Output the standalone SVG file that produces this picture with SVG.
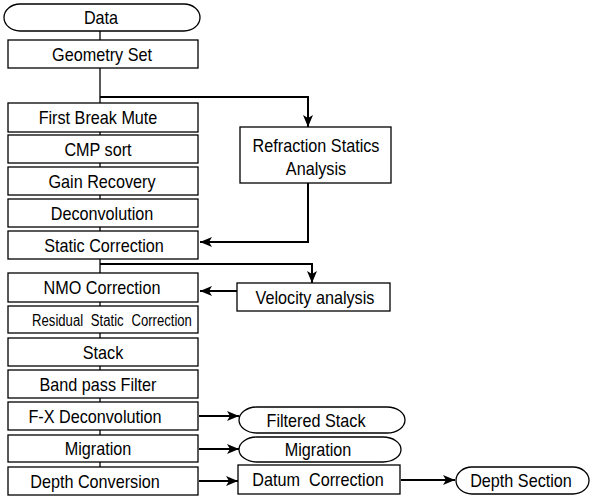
<svg xmlns="http://www.w3.org/2000/svg" width="592" height="499" viewBox="0 0 592 499">
<style>
.b{fill:#fff;stroke:#000;stroke-width:1.3}
.t{font-family:"Liberation Sans",Arial,sans-serif;font-size:18px;fill:#000;text-anchor:middle}
.c{fill:none;stroke:#000;stroke-width:2}
.s{fill:none;stroke:#000;stroke-width:1.3}
</style>
<defs>
<marker id="a" viewBox="0 0 12 10" refX="12" refY="5" markerWidth="12" markerHeight="10" markerUnits="userSpaceOnUse" orient="auto">
<path d="M0,0 L12,5 L0,10 L3,5 Z" fill="#000"/>
</marker>
</defs>
<g id="connectors">
<line class="s" x1="100" y1="31" x2="100" y2="467"/>
<path class="c" d="M100,97 H308 V127" marker-end="url(#a)"/>
<path class="c" d="M308,183 V242 H200" marker-end="url(#a)"/>
<path class="c" d="M100,264 H312 V283" marker-end="url(#a)"/>
<path class="c" d="M237,291 H200" marker-end="url(#a)"/>
<path class="c" d="M199,416 H239" marker-end="url(#a)"/>
<path class="c" d="M199,449 H239" marker-end="url(#a)"/>
<path class="c" d="M199,481 H238" marker-end="url(#a)"/>
<path class="c" d="M401,480 H455" marker-end="url(#a)"/>
</g>
<g id="data"><rect class="b" x="4" y="4" width="196" height="27" rx="16" ry="13.5"/><text class="t" transform="matrix(0.9 0 0 1 101 24)">Data</text></g>
<g id="geometry"><rect class="b" x="8" y="40" width="190" height="28"/><text class="t" transform="matrix(0.9 0 0 1 102 60.5)">Geometry Set</text></g>
<g id="fbm"><rect class="b" x="8" y="103" width="190" height="29"/><text class="t" transform="matrix(0.9 0 0 1 98 124)">First Break Mute</text></g>
<g id="cmp"><rect class="b" x="8" y="135" width="190" height="28"/><text class="t" transform="matrix(0.9 0 0 1 98 155.5)">CMP sort</text></g>
<g id="gain"><rect class="b" x="8" y="167" width="190" height="28"/><text class="t" transform="matrix(0.9 0 0 1 102 187.5)">Gain Recovery</text></g>
<g id="decon"><rect class="b" x="8" y="199" width="190" height="28"/><text class="t" transform="matrix(0.9 0 0 1 102 219.5)">Deconvolution</text></g>
<g id="static"><rect class="b" x="8" y="231" width="190" height="28"/><text class="t" transform="matrix(0.9 0 0 1 104 251.5)">Static Correction</text></g>
<g id="refraction"><rect class="b" x="240" y="127" width="151" height="56"/><text class="t" transform="matrix(0.9 0 0 1 316 151.5)">Refraction Statics</text><text class="t" transform="matrix(0.9 0 0 1 316 174.5)">Analysis</text></g>
<g id="nmo"><rect class="b" x="8" y="273" width="190" height="29"/><text class="t" transform="matrix(0.9 0 0 1 102 294)">NMO Correction</text></g>
<g id="velocity"><rect class="b" x="237" y="283" width="153" height="28"/><text class="t" transform="matrix(0.9 0 0 1 315 303.5)">Velocity analysis</text></g>
<g id="residual"><rect class="b" x="8" y="306" width="190" height="27"/><text class="t" transform="matrix(0.82 0 0 1 112 325.5)" style="font-size:16px;word-spacing:5px">Residual Static Correction</text></g>
<g id="stack"><rect class="b" x="8" y="338" width="190" height="28"/><text class="t" transform="matrix(0.9 0 0 1 103 358.5)">Stack</text></g>
<g id="bandpass"><rect class="b" x="8" y="370" width="190" height="28"/><text class="t" transform="matrix(0.9 0 0 1 98 390.5)">Band pass Filter</text></g>
<g id="fx"><rect class="b" x="8" y="402" width="190" height="28"/><text class="t" transform="matrix(0.9 0 0 1 95 422.5)">F-X Deconvolution</text></g>
<g id="migration"><rect class="b" x="8" y="435" width="190" height="27"/><text class="t" transform="matrix(0.9 0 0 1 98 455)">Migration</text></g>
<g id="depthconv"><rect class="b" x="8" y="467" width="190" height="28"/><text class="t" transform="matrix(0.9 0 0 1 95 487.5)">Depth Conversion</text></g>
<g id="filtered"><rect class="b" x="239" y="407" width="166" height="26" rx="18" ry="13"/><text class="t" transform="matrix(0.9 0 0 1 316 426.5)">Filtered Stack</text></g>
<g id="migout"><rect class="b" x="239" y="437" width="162" height="25" rx="18" ry="12.5"/><text class="t" transform="matrix(0.9 0 0 1 318 456)">Migration</text></g>
<g id="datum"><rect class="b" x="238" y="465" width="162" height="29"/><text class="t" transform="matrix(0.9 0 0 1 318 486)" style="word-spacing:5px">Datum Correction</text></g>
<g id="depthsec"><rect class="b" x="456" y="467" width="133" height="27" rx="16" ry="13.5"/><text class="t" transform="matrix(0.9 0 0 1 521 487)">Depth Section</text></g>
</svg>
